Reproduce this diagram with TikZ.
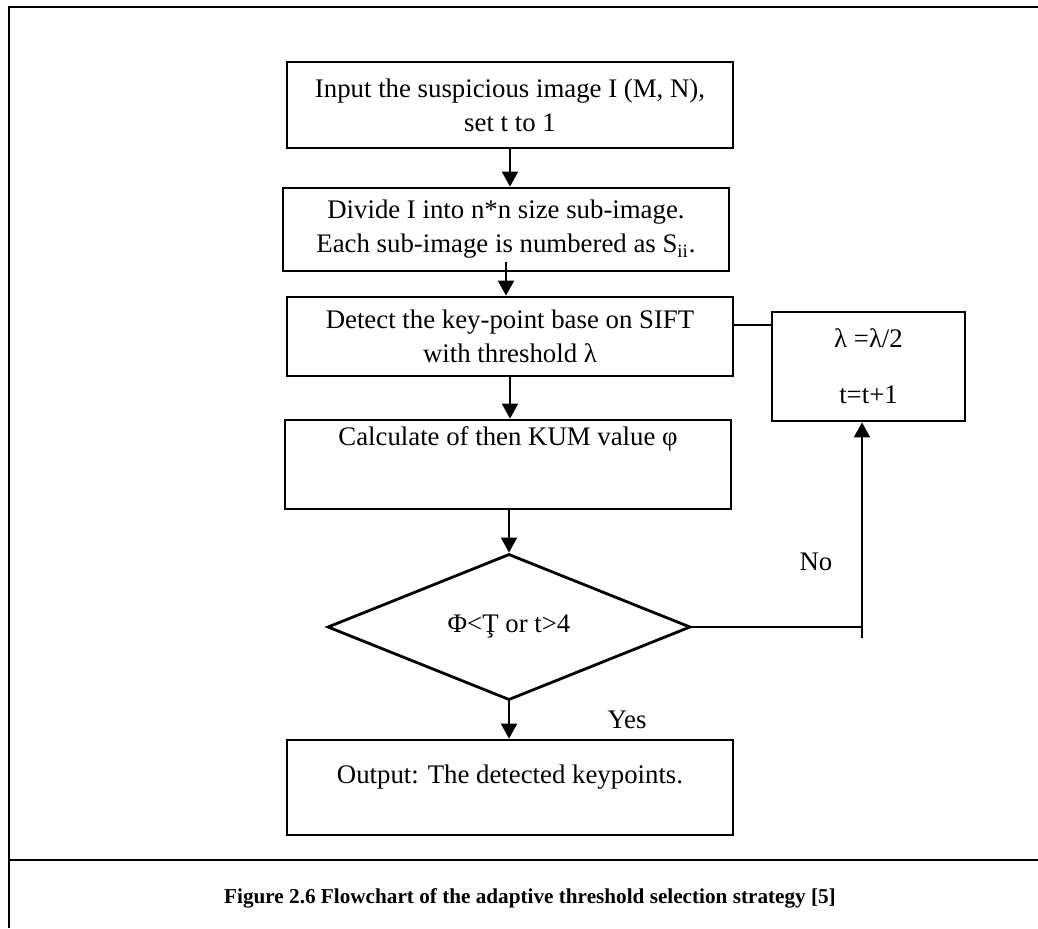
\documentclass[tikz,border=0pt]{standalone}
\usepackage{fontspec}
\setmainfont{Liberation Serif}
\usetikzlibrary{shapes.geometric,arrows.meta}
\tikzset{
  blk/.style={draw,line width=1.4pt,minimum width=223pt,align=center,inner sep=0pt,
    font=\fontsize{13.4}{17}\selectfont},
  dec/.style={draw,diamond,line width=1.4pt,minimum width=181.5pt,minimum height=71pt,
    inner sep=0pt,font=\fontsize{13.4}{17}\selectfont},
  lbl/.style={font=\fontsize{13.4}{17}\selectfont},
  flow/.style={-{Triangle[length=7.5pt,width=8pt]},line width=1pt},
  link/.style={line width=0.6pt}
}
\begin{document}
\begin{tikzpicture}[x=0.5pt,y=-0.5pt]
  \useasboundingbox (0,0) rectangle (1038,928);
  % frame
  \draw[line width=1.15pt] (1038,7) -- (9,7) -- (9,928);
  \draw[line width=1.15pt] (9,860) -- (1038,860);
  % boxes
  \node[blk,minimum height=43pt] (in) at (510,105) {Input the suspicious image I (M, N),\\ set t to 1};
  \node[blk,minimum height=41.5pt] (div) at (506,229.5) {Divide I into n*n size sub-image.\\ Each sub-image is numbered as S\textsubscript{ii}.};
  \node[blk,minimum height=39.5pt] (det) at (510,336.5) {Detect the key-point base on SIFT\\ with threshold λ};
  \node[blk,text height=12.5pt,text depth=32pt] (calc) at (508,464.5) {Calculate of then KUM value φ};
  \node[dec] (dec) at (509,627) {Φ<Ţ or t>4};
  \node[blk,text height=21.5pt,text depth=26pt] (out) at (510,787.5) {Output: The detected keypoints.};
  \node[blk,minimum width=96.5pt,minimum height=54.5pt] (upd) at (868.5,366.5) {λ =λ/2\\[11pt] t=t+1};
  \node[lbl] (no) at (816,562) {No};
  \node[lbl] (yes) at (627,720) {Yes};
  \node[font=\fontsize{10.6}{12}\selectfont\bfseries] (cap) at (530,898) {Figure 2.6 Flowchart of the adaptive threshold selection strategy [5]};
  \coordinate (j) at ([yshift=5.75pt]det.east);
  \coordinate (turn) at (862,638);
  % connectors
  \begin{scope}[flow]
    \draw (in.south) -- (in.south |- div.north);
    \draw ([yshift=5pt]div.south) -- (div.south |- det.north);
    \draw (det.south) -- (det.south |- calc.north);
    \draw (calc.south -| dec.north) -- (dec.north);
    \draw (dec.south) -- (dec.south |- out.north);
    \draw (turn) -- (turn |- upd.south);
  \end{scope}
  \draw[link] (j) -- (j -| upd.west);
  \draw[link] (dec.east) -- (dec.east -| turn);
\end{tikzpicture}
\end{document}
